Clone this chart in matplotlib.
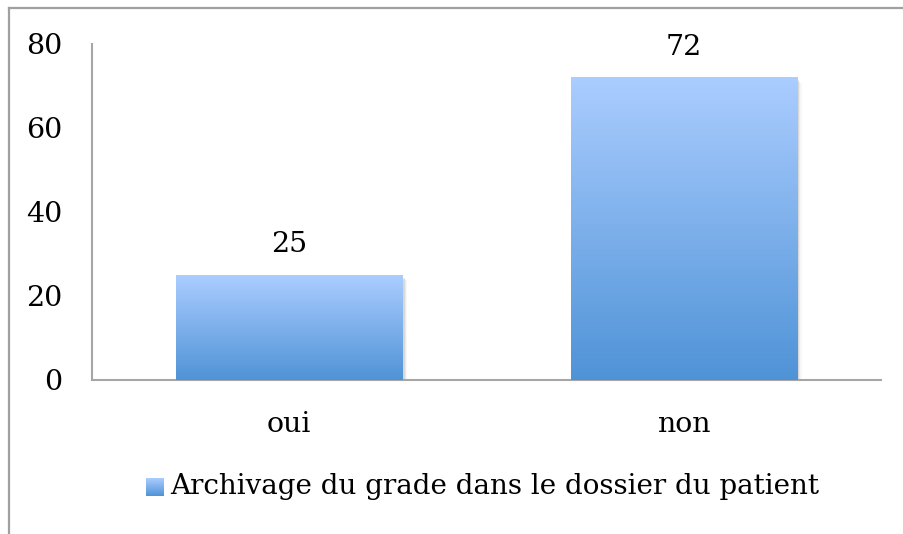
import matplotlib
matplotlib.use("Agg")
import matplotlib.pyplot as plt
import numpy as np
from matplotlib.lines import Line2D
from matplotlib.colors import LinearSegmentedColormap
from matplotlib.patches import Rectangle

categories = ["oui", "non"]
values = [25, 72]
series_name = "Archivage du grade dans le dossier du patient"
yticks = [0, 20, 40, 60, 80]

W, H = 904, 534
fig = plt.figure(figsize=(W / 100, H / 100), dpi=100)
plt.rcParams['font.family'] = ['DejaVu Serif']
FS = 20.5

# axes placed in pixel terms
left, right, bottom, top = 92, 881, 380, 44
ax = fig.add_axes([left / W, 1 - bottom / H, (right - left) / W, (bottom - top) / H])

top_col = "#abcdff"
bot_col = "#4f93d7"
cmap = LinearSegmentedColormap.from_list("g", [bot_col, top_col])
grad = np.linspace(0, 1, 256).reshape(-1, 1)

x = np.arange(len(categories))
bars = ax.bar(x, values, width=0.573, color="none", edgecolor="none", zorder=3)
for b, v in zip(bars, values):
    x0, w, h = b.get_x(), b.get_width(), b.get_height()
    # soft shadow
    for i, a in enumerate([0.12, 0.08, 0.05, 0.03]):
        ax.add_patch(Rectangle((x0 + 0.003 * (i + 1), -0.3 * (i + 1)), w, h,
                               facecolor="#000000", alpha=a, edgecolor="none", zorder=2))
    ax.imshow(grad, extent=[x0, x0 + w, 0, h], origin="lower", aspect="auto",
              cmap=cmap, zorder=4)
    ax.text(b.get_x() + w / 2, h + 4.0, str(v), ha="center", va="bottom",
            fontsize=FS, color="#000000", zorder=5)

ax.set_xlim(-0.5, len(categories) - 0.5)
ax.set_ylim(0, 80)
ax.set_yticks(yticks)
ax.set_yticklabels([str(t) for t in yticks], fontsize=FS)
ax.set_xticks(x)
ax.set_xticklabels(categories, fontsize=FS)
ax.tick_params(axis="y", length=0, pad=21.6)
ax.tick_params(axis="x", length=0, pad=22)
for s in ["top", "right"]:
    ax.spines[s].set_visible(False)
for s in ["left", "bottom"]:
    ax.spines[s].set_color("#a6a6a6")
    ax.spines[s].set_linewidth(1.5)
ax.patch.set_alpha(0)

# legend
gax = fig.add_axes([146 / W, 1 - 496 / H, 18 / W, 18 / H])
gax.imshow(grad, extent=[0, 1, 0, 1], origin="lower", aspect="auto", cmap=cmap)
gax.set_axis_off()
fig.text(170 / W, 1 - 487 / H, series_name, ha="left", va="center", fontsize=20)

# outer frame (top and left visible)
fig.add_artist(Line2D([9 / W, 1], [1 - 8 / H, 1 - 8 / H], transform=fig.transFigure,
                      color="#a0a0a0", lw=1.6))
fig.add_artist(Line2D([9 / W, 9 / W], [1 - 8 / H, 0], transform=fig.transFigure,
                      color="#a0a0a0", lw=1.6))

fig.savefig("out.png", dpi=100)
